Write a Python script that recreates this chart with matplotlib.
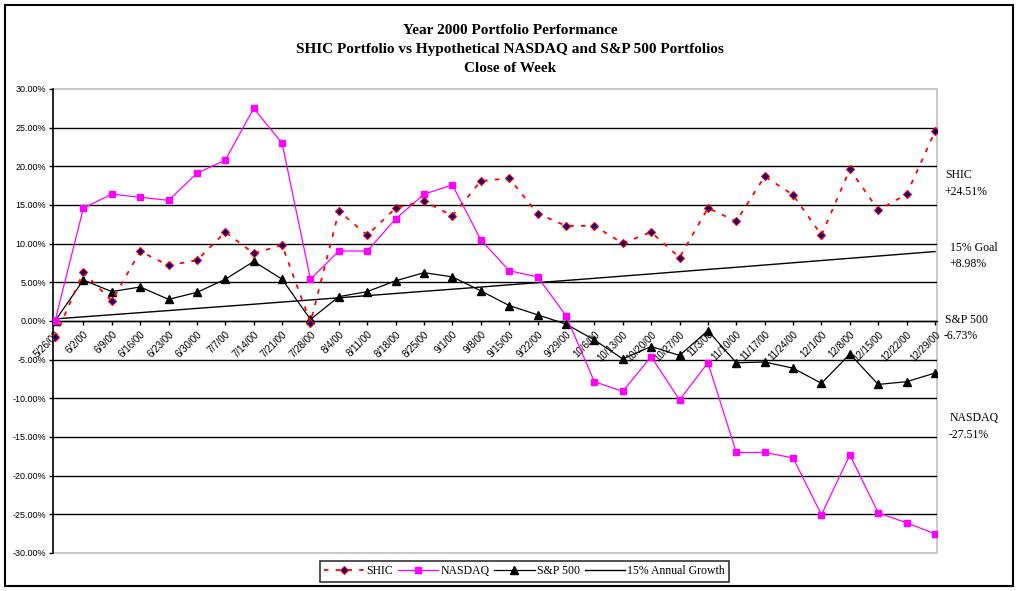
import matplotlib
matplotlib.use("Agg")
import matplotlib.pyplot as plt
from matplotlib.patches import Rectangle

dates = ["5/26/00", "6/2/00", "6/9/00", "6/16/00", "6/23/00", "6/30/00", "7/7/00", "7/14/00",
         "7/21/00", "7/28/00", "8/4/00", "8/11/00", "8/18/00", "8/25/00", "9/1/00", "9/8/00",
         "9/15/00", "9/22/00", "9/29/00", "10/6/00", "10/13/00", "10/20/00", "10/27/00", "11/3/00",
         "11/10/00", "11/17/00", "11/24/00", "12/1/00", "12/8/00", "12/15/00", "12/22/00", "12/29/00"]

shic = [-2.1, 6.3, 2.6, 9.0, 7.2, 7.85, 11.5, 8.75, 9.8, -0.2, 14.2, 11.1, 14.6, 15.5, 13.6, 18.1,
        18.45, 13.9, 12.3, 12.3, 10.05, 11.5, 8.2, 14.6, 12.9, 18.7, 16.3, 11.1, 19.6, 14.35, 16.4, 24.51]
nasdaq = [0.0, 14.6, 16.4, 16.0, 15.6, 19.1, 20.8, 27.5, 23.0, 5.4, 9.05, 9.05, 13.2, 16.4, 17.6, 10.5,
          6.5, 5.7, 0.7, -7.85, -9.1, -4.6, -10.2, -5.4, -17.0, -17.0, -17.7, -25.05, -17.3, -24.8, -26.1, -27.51]
sp500 = [0.0, 5.3, 3.8, 4.4, 2.8, 3.7, 5.4, 7.7, 5.4, 0.2, 3.15, 3.8, 5.2, 6.25, 5.7, 3.9,
         2.0, 0.8, -0.4, -2.45, -4.9, -3.3, -4.45, -1.25, -5.4, -5.3, -6.1, -8.06, -4.27, -8.2, -7.85, -6.73]
goal = [0.27, 0.54, 0.81, 1.08, 1.35, 1.63, 1.90, 2.17, 2.45, 2.72, 3.00, 3.28, 3.56, 3.84, 4.11, 4.39,
        4.68, 4.96, 5.24, 5.52, 5.81, 6.09, 6.38, 6.67, 6.95, 7.24, 7.53, 7.82, 8.11, 8.40, 8.69, 8.98]

y_ticks = [30, 25, 20, 15, 10, 5, 0, -5, -10, -15, -20, -25, -30]
title_lines = ["Year 2000 Portfolio Performance",
               "SHIC Portfolio vs Hypothetical NASDAQ and S&P 500 Portfolios",
               "Close of Week"]
side_labels = [("SHIC", "+24.51%"), ("15% Goal", "+8.98%"), ("S&P 500", "-6.73%"), ("NASDAQ", "-27.51%")]

W, H = 1020, 591
fig = plt.figure(figsize=(W / 100, H / 100), dpi=100)
serif = "Liberation Serif"
sans = "Liberation Sans"

ax = fig.add_axes([53 / W, 1 - 553 / H, (937 - 53) / W, (553 - 89) / H])
ax.spines["bottom"].set_position(("data", 0))
ax.spines["bottom"].set_color("black")
ax.spines["bottom"].set_linewidth(1.0)
ax.spines["left"].set_color("black")
ax.spines["left"].set_linewidth(1.2)
ax.spines["top"].set_visible(False)
ax.spines["right"].set_visible(False)

x = list(range(len(dates)))

for v in y_ticks:
    if v in (30, -30):
        continue
    ax.axhline(v, color="black", lw=1.0, zorder=1)

ax.plot(x, goal, color="black", lw=1.0, zorder=2, label="15% Annual Growth")
ax.plot(x, sp500, color="black", lw=0.9, marker="^", ms=5.5, mfc="black", mec="black", zorder=3, label="S&P 500")
ax.plot(x, nasdaq, color="#FF00FF", lw=0.9, marker="s", ms=5, mfc="#FF00FF", mec="#FF00FF", zorder=4, label="NASDAQ")
ax.plot(x, shic, color="#FF0000", lw=1.3, ls=(0, (2.5, 4)), marker="D", ms=4.5, mfc="#000080",
        mec="#FF0000", mew=0.8, zorder=5, label="SHIC")

ax.set_xlim(-0.07, len(dates) - 1 + 0.07)
ax.set_ylim(-30, 30)
ax.set_yticks(y_ticks)
ax.set_yticklabels([f"{v:.2f}%" for v in y_ticks], fontfamily=sans, fontsize=6.5)
ax.set_xticks(x)
ax.tick_params(axis="y", direction="out", length=3, width=1, pad=2, color="black")
ax.tick_params(axis="x", direction="out", length=3, width=1, pad=3, color="black")
ax.set_xticklabels(dates, fontfamily=sans, fontsize=7, rotation=45, ha="right", va="top",
                   rotation_mode="anchor")

# grey plot-area border (top, right, bottom)
ax.plot([0, 1, 1, 0], [1, 1, 0, 0], transform=ax.transAxes, color="#C0C0C0", lw=1.2,
        clip_on=False, zorder=0)

# title
for i, t in enumerate(title_lines):
    fig.text(510 / W, 1 - (30 + i * 19.0) / H, t, ha="center", va="center", fontfamily=serif,
             fontweight="bold", fontsize=11)

# right side labels
side_y = [(175, 192), (248, 264), (320, 336), (418, 435)]
side_x = [945, 950, 945, 950]
for (a, b), (y1, y2), xx in zip(side_labels, side_y, side_x):
    fig.text(xx / W, 1 - y1 / H, a, ha="left", va="center", fontfamily=serif, fontsize=8.5)
    fig.text((xx - 1) / W, 1 - y2 / H, b, ha="left", va="center", fontfamily=serif, fontsize=8.5)

# legend
handles, labels = ax.get_legend_handles_labels()
order = [3, 2, 1, 0]
leg = fig.legend([handles[i] for i in order], [labels[i] for i in order], ncol=4,
                 loc="center", bbox_to_anchor=(524.5 / W, 1 - 571.5 / H),
                 prop={"family": serif, "size": 8.5}, frameon=True, fancybox=False,
                 edgecolor="black", handlelength=3.4, handletextpad=0.2, columnspacing=0.4,
                 borderpad=0.35, borderaxespad=0)
leg.get_frame().set_linewidth(1.2)

# outer border
fig.patches.append(Rectangle((5 / W, 1 - 586 / H), (1013 - 5) / W, (586 - 5) / H,
                             transform=fig.transFigure, fill=False, edgecolor="black", lw=1.5))

fig.savefig("out.png", dpi=100)
